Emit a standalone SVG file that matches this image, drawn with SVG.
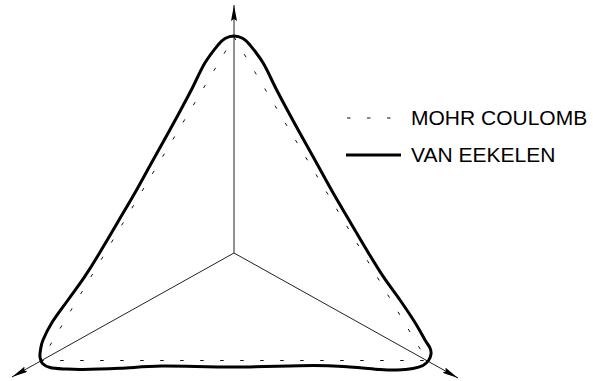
<svg xmlns="http://www.w3.org/2000/svg" width="593" height="381" viewBox="0 0 593 381">
  <style>
    .axis { stroke: #222; stroke-width: 1; fill: none; marker-end: url(#arrow); }
    .mc { stroke: #111; stroke-width: 1; fill: none; stroke-dasharray: 3.5 16.5; }
    .ve { stroke: #000; stroke-width: 3; fill: none; stroke-linejoin: round; }
    .lbl { font-family: "Liberation Sans", Arial, sans-serif; font-size: 21px; fill: #000; }
  </style>
  <defs>
    <marker id="arrow" viewBox="0 0 16 6" refX="16" refY="3" markerWidth="16" markerHeight="6" markerUnits="userSpaceOnUse" orient="auto">
      <path d="M0,0 L16,3 L0,6 L2,3 Z" fill="#000"/>
    </marker>
  </defs>
  <rect width="593" height="381" fill="#fff"/>

  <g id="axes">
    <line class="axis" x1="234" y1="253" x2="234" y2="5"/>
    <line class="axis" x1="234" y1="253" x2="12" y2="377"/>
    <line class="axis" x1="234" y1="253" x2="458" y2="378"/>
  </g>

  <g id="mohr-coulomb">
    <polygon class="mc" points="234,37 427,360.5 41,360.5"/>
  </g>

  <g id="van-eekelen">
    <path class="ve" d="M234,36
      C237,36 240.33,37 243,38.5
      C245.67,40 246.62,40.87 250,45
      C253.38,49.13 258.85,55.8 263.3,63.3
      C267.75,70.8 272.25,81.38 276.7,90
      C281.15,98.62 286.12,107.78 290,115
      C293.88,122.22 295.55,125.25 300,133.3
      C304.45,141.35 311.15,153.3 316.7,163.3
      C322.25,173.3 327.75,183.57 333.3,193.3
      C338.85,203.03 344.45,212.25 350,221.7
      C355.57,231.15 361.15,240.83 366.7,250
      C372.25,259.17 377.75,268.37 383.3,276.7
      C388.85,285.03 394.72,292.37 400,300
      C405.28,307.63 410.83,315.83 415,322.5
      C419.17,329.17 422.5,335.75 425,340
      C427.5,344.25 429,345.67 430,348
      C431,350.33 431.25,351.92 431,354
      C430.75,356.08 429.83,358.58 428.5,360.5
      C427.17,362.42 425.58,364.17 423,365.5
      C420.42,366.83 417.33,367.75 413,368.5
      C408.67,369.25 402.5,369.83 397,370
      C391.5,370.17 387.83,370 380,369.5
      C372.17,369 361.17,367.67 350,367
      C338.83,366.33 332.33,365.5 313,365.5
      C293.67,365.5 259.17,366.92 234,367
      C208.83,367.08 181,365.78 162,366
      C143,366.22 133.17,367.72 120,368.3
      C106.83,368.88 92.17,369.38 83,369.5
      C73.83,369.62 70.5,369.33 65,369
      C59.5,368.67 53.75,368.42 50,367.5
      C46.25,366.58 44.17,365.25 42.5,363.5
      C40.83,361.75 40.33,359.25 40,357
      C39.67,354.75 40,352.83 40.5,350
      C41,347.17 41.08,344.58 43,340
      C44.92,335.42 47.83,329.17 52,322.5
      C56.17,315.83 62.55,307.63 68,300
      C73.45,292.37 79.15,285.03 84.7,276.7
      C90.25,268.37 95.75,259.45 101.3,250
      C106.85,240.83 112.43,231.15 118,221.7
      C123.57,212.25 129.15,203.03 134.7,193.3
      C140.25,183.57 145.75,173.3 151.3,163.3
      C156.85,153.3 163.55,141.35 168,133.3
      C172.45,125.25 174.12,122.22 178,115
      C181.88,107.78 186.85,98.62 191.3,90
      C195.75,81.38 200.25,70.8 204.7,63.3
      C209.15,55.8 214.62,49.13 218,45
      C221.38,40.87 222.33,40 225,38.5
      C227.67,37 231,36 234,36 Z"/>
  </g>

  <g id="legend">
    <line class="mc" x1="347" y1="118" x2="391" y2="118"/>
    <text class="lbl" x="411" y="125">MOHR COULOMB</text>
    <line class="ve" x1="346" y1="155" x2="401" y2="155"/>
    <text class="lbl" x="411" y="162">VAN EEKELEN</text>
  </g>
</svg>
